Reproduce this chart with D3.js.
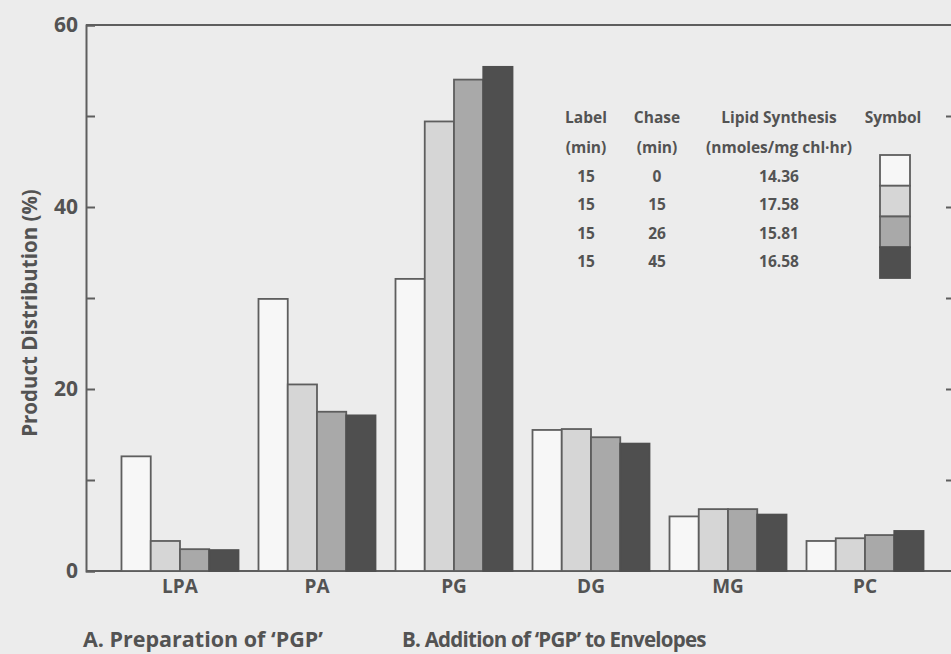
<!DOCTYPE html>
<html>
<head>
<meta charset="utf-8">
<script src="https://d3js.org/d3.v7.min.js"></script>
<style>
  html, body { margin: 0; padding: 0; background: #ececec; }
  svg { display: block; background: #ececec; }
  text { font-family: "Open Sans", sans-serif; font-weight: 700; fill: #535353; }
</style>
</head>
<body>
<svg width="951" height="654"></svg>
<script>
// lipid products on the x axis
var lipids = ['LPA', 'PA', 'PG', 'DG', 'MG', 'PC'];
// one series per chase time (0, 15, 26, 45 min)
var chase0  = [12.6, 29.9, 32.1, 15.5, 6.0, 3.3];
var chase15 = [3.3, 20.5, 49.4, 15.6, 6.8, 3.6];
var chase26 = [2.4, 17.5, 54.0, 14.7, 6.8, 3.95];
var chase45 = [2.3, 17.1, 55.4, 14.0, 6.2, 4.4];
var yTicks = [0, 10, 20, 30, 40, 50, 60];
var yLabelled = [0, 20, 40, 60];

// legend table
var legendLabel = [15, 15, 15, 15];
var legendChase = [0, 15, 26, 45];
var legendSynth = ['14.36', '17.58', '15.81', '16.58'];

var series = [chase0, chase15, chase26, chase45];
var fills = ['#f7f7f7', '#d6d6d6', '#a9a9a9', '#4f4f4f'];
var strokes = ['#5e5e5e', '#5e5e5e', '#5e5e5e', '#4f4f4f'];

var svg = d3.select('svg');
var L = 86, T = 25, B = 571, R = 951;

var y = d3.scaleLinear().domain([0, 60]).range([B, T]);
var x0 = d3.scaleBand().domain(lipids).range([L, 959])
    .paddingInner(0.146).paddingOuter(0.259);
var x1 = d3.scaleBand().domain(d3.range(series.length)).range([0, x0.bandwidth()]);

// frame: top line and baseline
svg.append('line').attr('x1', L).attr('x2', R).attr('y1', T).attr('y2', T)
    .attr('stroke', '#5e5e5e').attr('stroke-width', 2);
svg.append('line').attr('x1', L).attr('x2', R).attr('y1', B).attr('y2', B)
    .attr('stroke', '#5e5e5e').attr('stroke-width', 2);

// bars
var groups = svg.append('g').selectAll('g').data(lipids).enter().append('g')
    .attr('transform', function (d) { return 'translate(' + x0(d) + ',0)'; });

groups.selectAll('rect')
    .data(function (d, i) { return series.map(function (s, k) { return { k: k, v: s[i] }; }); })
    .enter().append('rect')
    .attr('x', function (d) { return x1(d.k); })
    .attr('width', x1.bandwidth())
    .attr('y', function (d) { return y(d.v); })
    .attr('height', function (d) { return B - y(d.v); })
    .attr('fill', function (d) { return fills[d.k]; })
    .attr('stroke', function (d) { return strokes[d.k]; })
    .attr('stroke-width', 1.8);

// left axis, ticks pointing inward
var yAxis = d3.axisLeft(y).tickValues(yTicks).tickSize(-9).tickPadding(8)
    .tickFormat(function (d) { return yLabelled.indexOf(d) >= 0 ? d : ''; });
var gy = svg.append('g').attr('transform', 'translate(' + L + ',0)').call(yAxis);
gy.select('.domain').attr('stroke', '#5e5e5e').attr('stroke-width', 2);
gy.selectAll('.tick line').attr('stroke', '#5e5e5e').attr('stroke-width', 2);
gy.selectAll('.tick text').attr('font-size', 21).attr('fill', '#535353')
    .attr('font-family', '"Open Sans", sans-serif').attr('font-weight', 700);

// right axis ticks (frame is cut off at the edge)
var yAxisR = d3.axisRight(y).tickValues(yTicks.slice(1, 6)).tickSize(-5).tickFormat('');
var gr = svg.append('g').attr('transform', 'translate(' + R + ',0)').call(yAxisR);
gr.select('.domain').remove();
gr.selectAll('.tick line').attr('stroke', '#5e5e5e').attr('stroke-width', 2);

// category labels
svg.append('g').selectAll('text').data(lipids).enter().append('text')
    .attr('x', function (d) { return x0(d) + x0.bandwidth() / 2; })
    .attr('y', 593)
    .attr('text-anchor', 'middle')
    .attr('font-size', 19)
    .text(function (d) { return d; });

// y title
svg.append('text')
    .attr('transform', 'translate(37,313) rotate(-90)')
    .attr('text-anchor', 'middle')
    .attr('font-size', 20.5)
    .text('Product Distribution (%)');

// legend table
var cols = [586, 657, 779];
var header1 = ['Label', 'Chase', 'Lipid Synthesis', 'Symbol'];
var header2 = ['(min)', '(min)', '(nmoles/mg chl\u00b7hr)'];
var hx = cols.concat([893]);
var lg = svg.append('g').attr('font-size', 15.5).attr('text-anchor', 'middle');
lg.selectAll('.h1').data(header1).enter().append('text')
    .attr('x', function (d, i) { return hx[i]; }).attr('y', 123).text(function (d) { return d; });
lg.selectAll('.h2').data(header2).enter().append('text')
    .attr('x', function (d, i) { return hx[i]; }).attr('y', 153).text(function (d) { return d; });

var rowY = d3.scaleLinear().domain([0, 3]).range([182, 267]);
[legendLabel, legendChase, legendSynth].forEach(function (colVals, c) {
    lg.append('g').selectAll('text').data(colVals).enter().append('text')
        .attr('x', cols[c])
        .attr('y', function (d, i) { return rowY(i); })
        .text(function (d) { return d; });
});

var symY = d3.scaleBand().domain(d3.range(4)).range([155, 278]);
svg.append('g').selectAll('rect').data(d3.range(4)).enter().append('rect')
    .attr('x', 880).attr('width', 30)
    .attr('y', function (d) { return symY(d); })
    .attr('height', symY.bandwidth())
    .attr('fill', function (d) { return fills[d]; })
    .attr('stroke', function (d) { return strokes[d]; })
    .attr('stroke-width', 1.8);

// panel captions
svg.append('text').attr('x', 83).attr('y', 647).attr('font-size', 21.5)
    .text('A. Preparation of \u2018PGP\u2019');
svg.append('text').attr('x', 402).attr('y', 647).attr('font-size', 20.5)
    .attr('letter-spacing', -0.75)
    .text('B. Addition of \u2018PGP\u2019 to Envelopes');
</script>
</body>
</html>
